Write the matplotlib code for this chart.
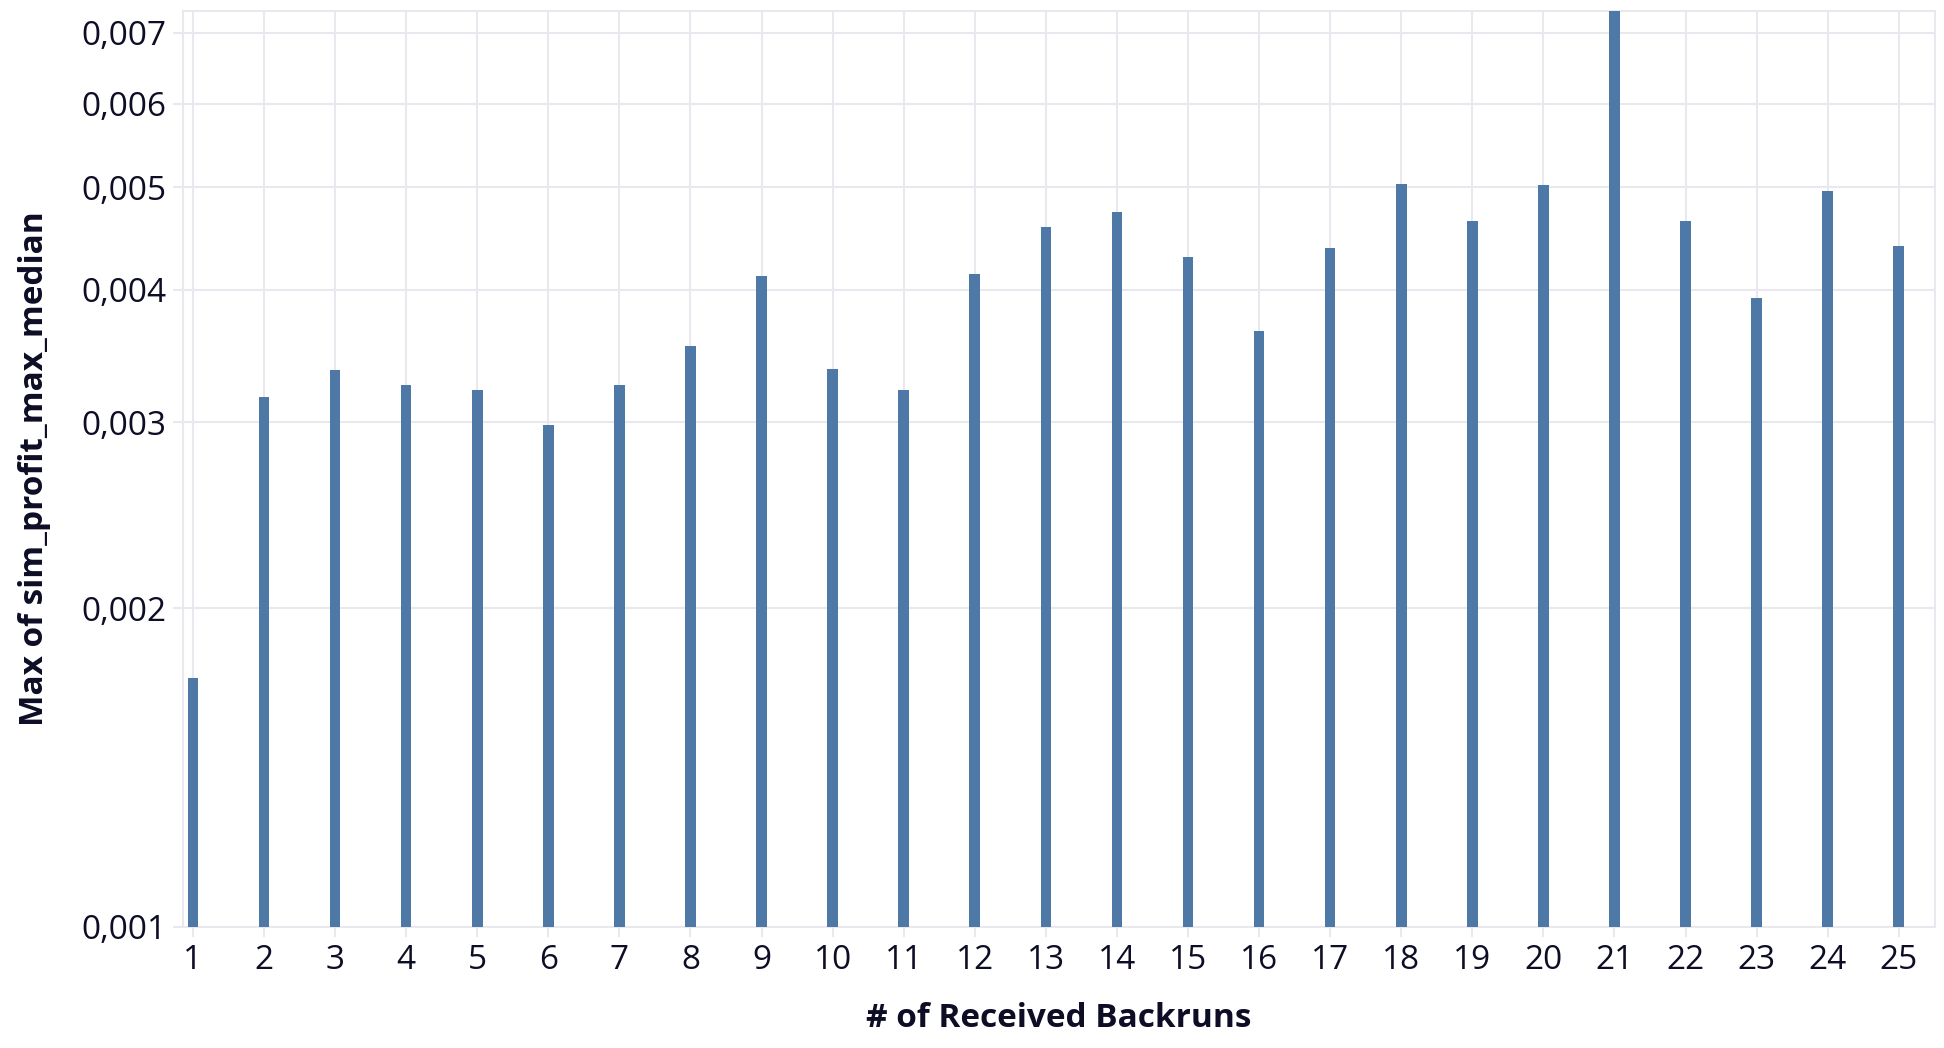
import matplotlib.pyplot as plt
from matplotlib.ticker import FixedLocator, FuncFormatter, NullLocator

# data
backruns = list(range(1, 26))
max_profit = [0.00172, 0.00317, 0.00336, 0.00325, 0.00322, 0.00298, 0.00325,
              0.00354, 0.00412, 0.00337, 0.00322, 0.00414, 0.00459, 0.00474,
              0.00430, 0.00366, 0.00438, 0.00504, 0.00465, 0.00503, 0.00740,
              0.00465, 0.00393, 0.00496, 0.00440]
y_ticks = [0.001, 0.002, 0.003, 0.004, 0.005, 0.006, 0.007]

bar_color = "#4e79a7"
grid_color = "#e8e8ee"
text_color = "#0d0d26"

plt.rcParams['font.family'] = ['Open Sans', 'DejaVu Sans']

fig = plt.figure(figsize=(19.44, 10.48), dpi=100)
ax = fig.add_axes([0.0941, 0.1155, 0.9013, 0.874])

ax.set_yscale('log')
ax.bar(backruns, max_profit, width=0.15, color=bar_color, zorder=3)
ax.set_ylim(0.001, 0.00734)
ax.set_xlim(0.86, 25.51)

ax.yaxis.set_major_locator(FixedLocator(y_ticks))
ax.yaxis.set_minor_locator(NullLocator())
ax.yaxis.set_major_formatter(FuncFormatter(lambda v, p: ("%.3f" % v).replace(".", ",")))
ax.set_xticks(backruns)

ax.grid(True, color=grid_color, linewidth=1.5, zorder=0)
for s in ax.spines.values():
    s.set_color(grid_color)
    s.set_linewidth(1.5)

ax.tick_params(axis='both', colors=grid_color, length=7, width=1.5,
               labelsize=24, labelcolor=text_color, pad=5)

ax.set_xlabel("# of Received Backruns", fontsize=24, fontweight='bold',
              color=text_color, labelpad=18)
ax.set_ylabel("Max of sim_profit_max_median", fontsize=24, fontweight='bold',
              color=text_color, labelpad=22)

fig.savefig("out.png", dpi=100)
